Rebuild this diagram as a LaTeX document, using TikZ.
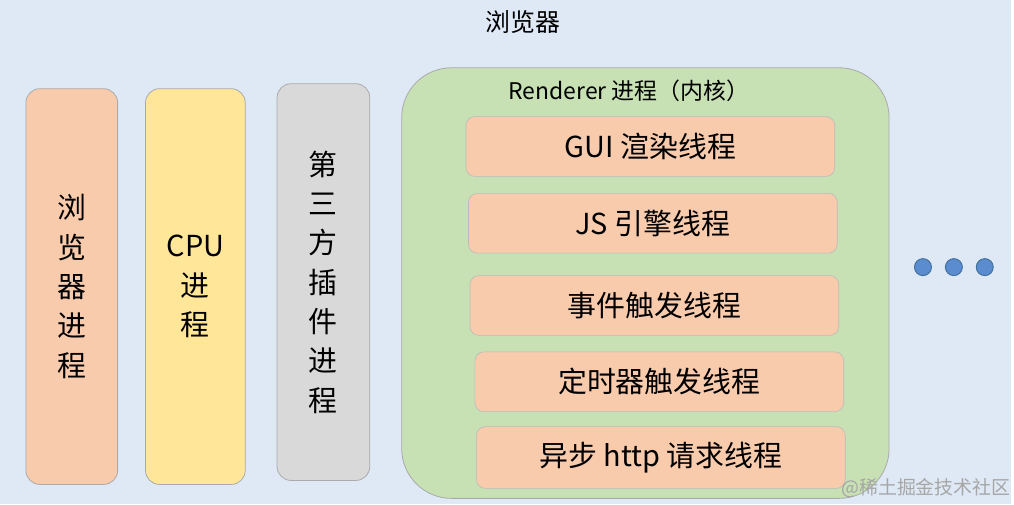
\documentclass[tikz,border=0pt]{standalone}
\usepackage{fontspec}
\setmainfont{Noto Sans CJK SC}

\definecolor{bgblue}{RGB}{222,233,245}
\definecolor{peach}{RGB}{248,203,173}
\definecolor{sunny}{RGB}{255,230,153}
\definecolor{ashgrey}{RGB}{217,217,217}
\definecolor{leaf}{RGB}{199,224,180}
\definecolor{dotblue}{RGB}{91,140,208}
\definecolor{dotedge}{RGB}{65,113,156}
\definecolor{edgegrey}{RGB}{170,170,170}

\tikzset{
    proc/.style={draw=edgegrey, line width=0.8pt, rounded corners=14pt, minimum width=92pt, align=center, font=\fontsize{29}{39.5}\selectfont},
    thread/.style={draw=edgegrey!80, line width=0.6pt, fill=peach, rounded corners=9pt, minimum width=370pt, minimum height=60pt, font=\fontsize{29}{32}\selectfont},
    ellip/.style={circle, draw=dotedge, line width=1pt, fill=dotblue, minimum size=17pt, inner sep=0pt}
}

\begin{document}
\begin{tikzpicture}[x=1pt, y=-1pt]
            \fill[bgblue] (0,0) rectangle (1014,506);

            \node[font=\fontsize{25}{28}\selectfont] (title) at (525,22) {浏览器};

            \node[proc, fill=peach, minimum height=397pt] (browser) at (72,287.5) {浏\\览\\器\\进\\程};
            \node[proc, fill=sunny, minimum width=100pt, minimum height=397pt] (cpu) at (196,287.5) {CPU\\进\\程};
            \node[proc, fill=ashgrey, minimum width=93pt, minimum height=398pt] (plugin) at (324.5,283) {第\\三\\方\\插\\件\\进\\程};

            \node[draw=edgegrey, line width=0.8pt, fill=leaf, rounded corners=50pt, minimum width=489pt, minimum height=432pt] (renderer) at (647.5,284) {};
            \node[font=\fontsize{23}{26}\selectfont] (rlabel) at (631,91) {Renderer 进程（内核）};

            \node[thread] (gui) at (652.5,147) {GUI 渲染线程};
            \node[thread] (js) at (655,224) {JS 引擎线程};
            \node[thread] (event) at (656.5,306.5) {事件触发线程};
            \node[thread] (timer) at (661.5,383) {定时器触发线程};
            \node[thread, minimum height=62pt] (http) at (663,459) {异步 http 请求线程};

            \node[ellip] (dotA) at (926,268) {};
            \node[ellip] (dotB) at (957,268) {};
            \node[ellip] (dotC) at (988,268) {};

            \node[text=gray!70, font=\fontsize{19}{22}\selectfont] (mark) at (929,490) {@稀土掘金技术社区};
        \end{tikzpicture}
\end{document}
